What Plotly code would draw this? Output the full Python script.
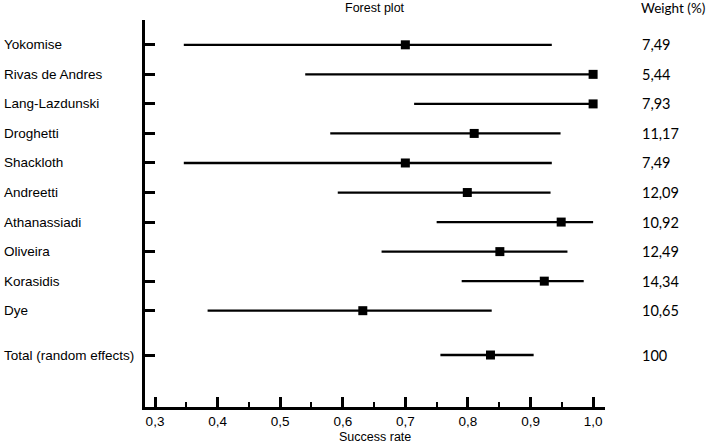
import plotly.graph_objects as go

studies = ['Yokomise', 'Rivas de Andres', 'Lang-Lazdunski', 'Droghetti', 'Shackloth',
           'Andreetti', 'Athanassiadi', 'Oliveira', 'Korasidis', 'Dye',
           'Total (random effects)']
rate = [0.70, 1.00, 1.00, 0.81, 0.70, 0.799, 0.949, 0.851, 0.922, 0.632, 0.836]
lower = [0.346, 0.54, 0.714, 0.58, 0.346, 0.592, 0.75, 0.662, 0.79, 0.384, 0.756]
upper = [0.934, 1.00, 1.00, 0.948, 0.934, 0.932, 1.00, 0.959, 0.985, 0.838, 0.905]
weights = ['7,49', '5,44', '7,93', '11,17', '7,49', '12,09', '10,92', '12,49',
           '14,34', '10,65', '100']
rows = [0, 1, 2, 3, 4, 5, 6, 7, 8, 9, 10.5]
xticks = [0.3, 0.4, 0.5, 0.6, 0.7, 0.8, 0.9, 1.0]

arial = 'Liberation Sans, Arial, sans-serif'

fig = go.Figure()
fig.add_trace(go.Scatter(
    x=rate, y=rows, mode='markers',
    marker=dict(symbol='square', size=9, color='black'),
    error_x=dict(type='data', symmetric=False,
                 array=[u - r for u, r in zip(upper, rate)],
                 arrayminus=[r - l for r, l in zip(rate, lower)],
                 color='black', thickness=2.3, width=0),
    showlegend=False, hoverinfo='skip'))

ann = []
for s, w, r in zip(studies, weights, rows):
    ann.append(dict(x=-0.311, y=r, xref='paper', yref='y', text=s, showarrow=False,
                    xanchor='left', yanchor='middle',
                    font=dict(family=arial, size=13.5, color='black')))
    ann.append(dict(x=1.076, y=r, xref='paper', yref='y', text=w, showarrow=False,
                    xanchor='left', yanchor='middle',
                    font=dict(family='Lato', size=14.5, color='black')))
ann.append(dict(x=0.5, y=1.0, xref='paper', yref='paper', yshift=12, text='Forest plot',
                showarrow=False, xanchor='center', yanchor='middle',
                font=dict(family=arial, size=12.5, color='black')))
ann.append(dict(x=1.074, y=1.0, xref='paper', yref='paper', yshift=12, text='Weight (%)',
                showarrow=False, xanchor='left', yanchor='middle',
                font=dict(family='Lato', size=13.5, color='black')))
ann.append(dict(x=0.5, y=0, xref='paper', yref='paper', yshift=-30, text='Success rate',
                showarrow=False, xanchor='center', yanchor='middle',
                font=dict(family=arial, size=12.5, color='black')))

fig.update_layout(
    width=709, height=446,
    margin=dict(l=145, r=104, t=20, b=39),
    plot_bgcolor='white', paper_bgcolor='white',
    annotations=ann,
    xaxis=dict(range=[0.284, 1.019], showgrid=False, zeroline=False,
               showline=True, linecolor='black', linewidth=3,
               tickvals=xticks, ticktext=[f'{t:.1f}'.replace('.', ',') for t in xticks],
               ticks='inside', ticklen=10, tickwidth=2.5, tickcolor='black',
               tickfont=dict(family=arial, size=13.5, color='black'),
               minor=dict(ticks='inside', ticklen=5, tickwidth=2, tickcolor='black',
                          dtick=0.05, tick0=0.3)),
    yaxis=dict(range=[12.26, -0.84], showgrid=False, zeroline=False,
               showline=True, linecolor='black', linewidth=3,
               tickvals=rows, showticklabels=False,
               ticks='inside', ticklen=10, tickwidth=2.5, tickcolor='black'),
)

fig.write_html("out.html", config={'displayModeBar': False},
               post_script="document.body.style.margin='0';")
